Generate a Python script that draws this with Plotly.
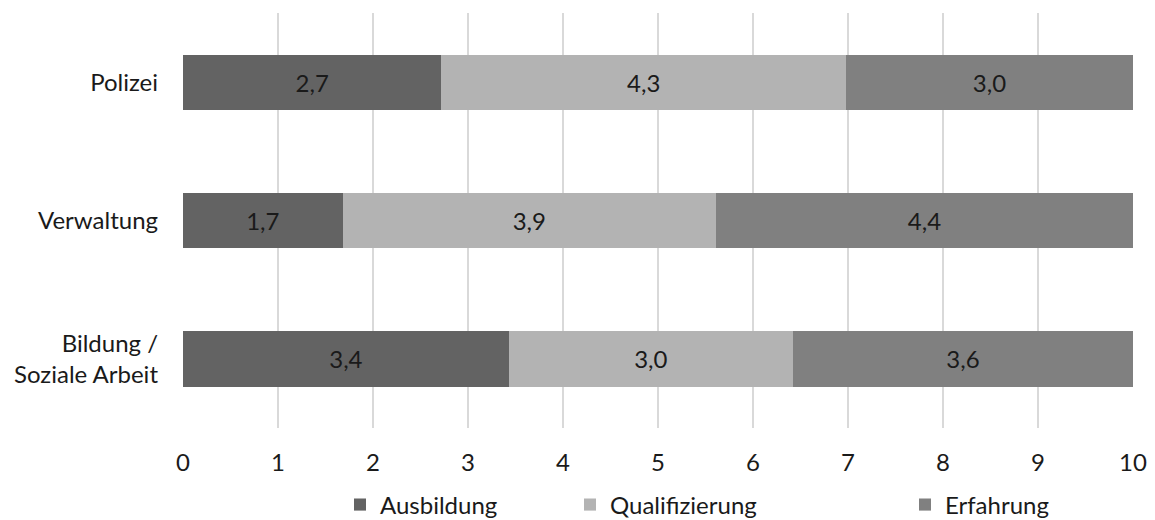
import plotly.graph_objects as go

categories = ["Bildung /<br>Soziale Arbeit", "Verwaltung", "Polizei"]
series_names = ["Ausbildung", "Qualifizierung", "Erfahrung"]
ausbildung = [3.43, 1.68, 2.72]
qualifizierung = [2.99, 3.93, 4.26]
erfahrung = [3.58, 4.39, 3.02]
colors = ["#636363", "#b3b3b3", "#808080"]
x_ticks = list(range(0, 11))

W, H = 1155, 520
FONT = "Lato"
TXT = "#1a1a1a"
FS = 24

fig = go.Figure()
legend_ids = ["legend", "legend2", "legend3"]
for name, vals, col, lg in zip(series_names, [ausbildung, qualifizierung, erfahrung], colors, legend_ids):
    fig.add_trace(go.Bar(
        y=categories, x=vals, name=name, orientation="h",
        marker=dict(color=col, line=dict(width=0)),
        texttemplate="%{x:.1f}", textposition="inside", insidetextanchor="middle",
        textfont=dict(family=FONT, size=FS, color=TXT),
        legend=lg, hoverinfo="skip",
    ))

legend_x = [340, 570, 905]
leg_common = dict(orientation="h", xref="container", yref="container", yanchor="middle",
                  xanchor="left", y=1 - 505 / H, font=dict(family=FONT, size=FS, color=TXT),
                  bgcolor="rgba(0,0,0,0)", borderwidth=0, tracegroupgap=0)

fig.update_layout(
    width=W, height=H,
    barmode="stack", bargap=0.6,
    separators=",.",
    plot_bgcolor="white", paper_bgcolor="white",
    margin=dict(l=183, r=22, t=13, b=92, pad=0, autoexpand=False),
    font=dict(family=FONT, size=FS, color=TXT),
    showlegend=True,
    legend=dict(x=legend_x[0] / W, **leg_common),
    legend2=dict(x=legend_x[1] / W, **leg_common),
    legend3=dict(x=legend_x[2] / W, **leg_common),
    xaxis=dict(range=[0, 10], tickvals=x_ticks, ticktext=[str(v) for v in x_ticks],
               showgrid=True, gridcolor="#d9d9d9", gridwidth=1.5,
               zeroline=False, showline=False, ticks="", ticklabelstandoff=18,
               tickfont=dict(family=FONT, size=FS, color=TXT)),
    yaxis=dict(categoryorder="array", categoryarray=categories, showgrid=False,
               zeroline=False, showline=False, ticks="", ticklabelstandoff=24,
               tickfont=dict(family=FONT, size=FS, color=TXT)),
)

fig.write_html("out.html")
